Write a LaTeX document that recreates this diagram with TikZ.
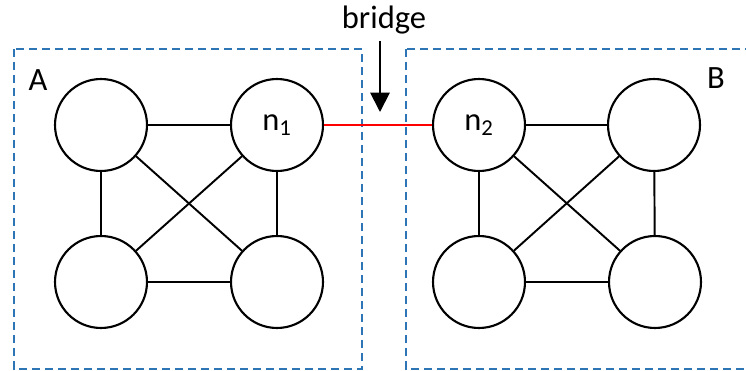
\documentclass[tikz,border=0pt]{standalone}
\usepackage{fontspec}
\setmainfont{Carlito}
\usepackage{tikz}
\usetikzlibrary{positioning}
\usetikzlibrary{arrows.meta}
\definecolor{boxblue}{RGB}{46,117,182}
\tikzset{>=latex}
\tikzset{
  vertex/.style={draw, circle, line width=1.2pt, minimum size=1.84cm, inner sep=0pt, font=\fontsize{18.5}{22}\selectfont},
  group/.style={draw=boxblue, line width=1.4pt, dash pattern=on 4.6pt off 2.8pt},
  edge/.style={line width=1.1pt},
  tag/.style={font=\fontsize{18.5}{22}\selectfont}
}

\begin{document}
\begin{tikzpicture}[x=0.02cm, y=-0.02cm]
\useasboundingbox (0,0) rectangle (746,371);

% Communities
\draw[group] (14,49) rectangle (362,369);
\draw[group] (406,49) rectangle (760,369);
\node[tag] (labA) at (38,80) {A};
\node[tag] (labB) at (716,78) {B};

% Nodes of A
\node[vertex] (a1) at (101,125) {};
\node[vertex] (n1) at (277,125) {n\textsubscript{1}};
\node[vertex] (a3) at (101,282) {};
\node[vertex] (a4) at (277,282) {};

% Nodes of B
\node[vertex] (n2) at (479,125) {n\textsubscript{2}};
\node[vertex] (b2) at (654,125) {};
\node[vertex] (b3) at (479,282) {};
\node[vertex] (b4) at (655,282) {};

% Edges inside A
\draw[edge] (a1) -- (n1);
\draw[edge] (a1) -- (a3);
\draw[edge] (a1) -- (a4);
\draw[edge] (n1) -- (a3);
\draw[edge] (n1) -- (a4);
\draw[edge] (a3) -- (a4);

% Edges inside B
\draw[edge] (n2) -- (b2);
\draw[edge] (n2) -- (b3);
\draw[edge] (n2) -- (b4);
\draw[edge] (b2) -- (b3);
\draw[edge] (b2) -- (b4);
\draw[edge] (b3) -- (b4);

% Bridge edge
\draw[red, line width=0.9pt] (n1) -- (n2);

% Bridge label
\node[tag] (brl) at (384,20) {bridge};
\coordinate (tail) at (380,41);
\coordinate (tip) at (380,112);
\draw[-{Triangle[width=11pt,length=11pt]}, line width=1.1pt] (tail) -- (tip);

\end{tikzpicture}
\end{document}
